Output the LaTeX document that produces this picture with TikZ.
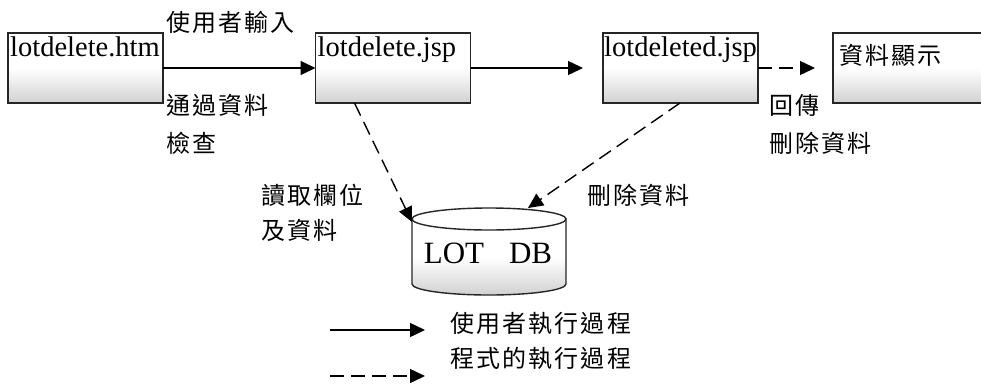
\documentclass[tikz,border=0pt]{standalone}
\usepackage{fontspec}
\setmainfont{Liberation Serif}
\newfontfamily\cjk[LetterSpace=9]{Noto Sans CJK TC}
\usetikzlibrary{arrows.meta,calc}
\tikzset{
  pagebox/.style={draw=black!85,line width=1.4pt,top color=white,bottom color=black!18,middle color=white,
    minimum width=155pt,minimum height=70pt,inner sep=0pt,outer sep=0pt},
  boxtext/.style={anchor=north west,inner sep=0pt,font=\fontsize{28.5}{31}\selectfont},
  cjklabel/.style={anchor=west,inner sep=0pt,font=\cjk\fontsize{24}{26}\selectfont},
  flow/.style={line width=1.4pt,-{Triangle[length=15pt,width=14pt]}},
  prog/.style={flow,dash pattern=on 14pt off 7pt},
}
\begin{document}
\begin{tikzpicture}[x=1pt,y=1pt]
\clip (0,0) rectangle (981,-383);
\fill[white] (0,0) rectangle (981,-383);
% boxes
\node[pagebox] (b1) at (85.5,-68) {};
\node[pagebox] (b2) at (393,-68) {};
\node[pagebox] (b3) at (680.5,-68) {};
\node[pagebox,minimum width=170pt] (b4) at (918,-68) {};
\node[boxtext] (t1) at ($(b1.north west)+(2,-4)$) {lotdelete.htm};
\node[boxtext] (t2) at ($(b2.north west)+(2,-4)$) {lotdelete.jsp};
\node[boxtext] (t3) at ($(b3.north west)+(1,-4)$) {lotdeleted.jsp};
\node[cjklabel] (t4) at ($(b4.north west)+(6,-22)$) {資料顯示};
% cylinder
\coordinate (dbc) at (489,-219);
\shade[top color=white,bottom color=black!18,middle color=white,draw=black!85,line width=1.4pt]
  (412,-219) -- (412,-284) arc[start angle=180,end angle=360,x radius=77,y radius=11] -- (566,-219) -- cycle;
\draw[black!85,line width=1.4pt,fill=white] (dbc) ellipse[x radius=77,y radius=11];
\node[inner sep=0pt,font=\fontsize{31}{33}\selectfont] (db) at (488,-253) {LOT\hspace{25pt}DB};
\coordinate (dbl) at (412,-222);
\coordinate (dbt) at (528,-208);
% connectors
\draw[flow] (b1.east) -- (b2.west);
\draw[flow] (b2.east) -- ($(b3.west)+(-20,0)$) coordinate (a2end);
\draw[prog] (b3.east) -- ($(b4.west)+(-18,0)$) coordinate (a3end);
\draw[prog] ($(b2.south west)+(39,0)$) -- (dbl);
\draw[prog] ($(b3.south west)+(77,0)$) -- (dbt);
% labels
\node[cjklabel] (l1) at (166,-22) {使用者輸入};
\node[cjklabel] (l2) at (166,-105) {通過資料};
\node[cjklabel] (l3) at (166,-143) {檢查};
\node[cjklabel] (l4) at (769,-105) {回傳};
\node[cjklabel] (l5) at (769,-143) {刪除資料};
\node[cjklabel] (l6) at (261,-195) {讀取欄位};
\node[cjklabel] (l7) at (261,-230) {及資料};
\node[cjklabel] (l8) at (587,-195) {刪除資料};
% legend
\coordinate (ls1) at (330,-330);
\coordinate (le1) at (425,-330);
\coordinate (ls2) at (330,-376);
\coordinate (le2) at (425,-376);
\draw[flow] (ls1) -- (le1);
\draw[prog] (ls2) -- (le2);
\node[cjklabel] (g1) at (450,-323) {使用者執行過程};
\node[cjklabel] (g2) at (450,-358) {程式的執行過程};
\end{tikzpicture}
\end{document}
